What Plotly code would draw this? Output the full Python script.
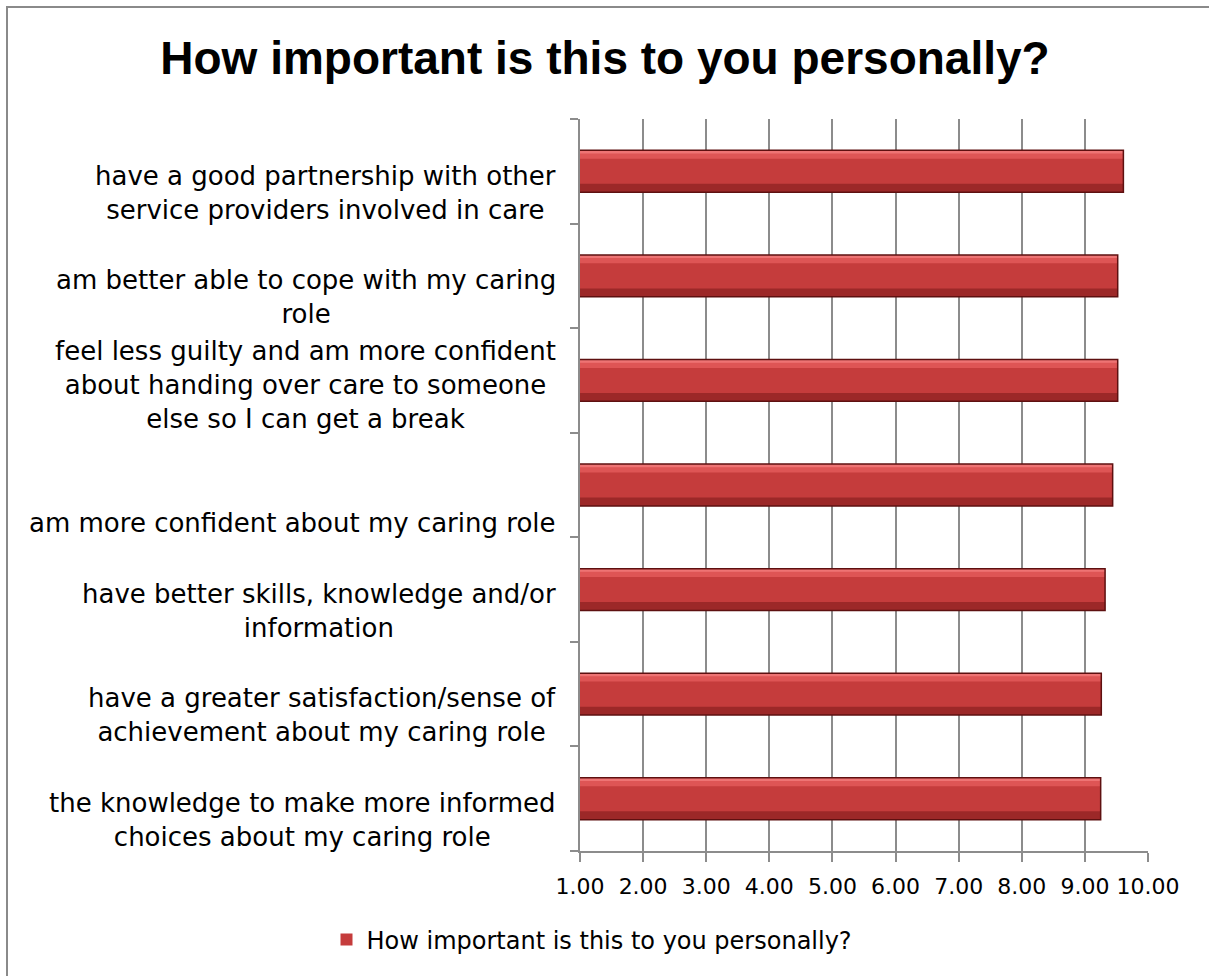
import plotly.graph_objects as go

# Survey items, listed from the bottom of the chart to the top
categories = [
    "the knowledge to make more informed choices about my caring role",
    "have a greater satisfaction/sense of achievement about my caring role",
    "have better skills, knowledge and/or information",
    "am more confident about my caring role",
    "feel less guilty and am more confident about handing over care to someone else so I can get a break",
    "am better able to cope with my caring role",
    "have a good partnership with other service providers involved in care",
]

# Wrapped text shown beside each bar
category_labels = [
    "the knowledge to make more informed<br>choices about my caring role",
    "have a greater satisfaction/sense of<br>achievement about my caring role",
    "have better skills, knowledge and/or<br>information",
    "am more confident about my caring role",
    "feel less guilty and am more confident<br>about handing over care to someone<br>else so I can get a break",
    "am better able to cope with my caring<br>role",
    "have a good partnership with other<br>service providers involved in care",
]

importance = [9.25, 9.26, 9.32, 9.44, 9.52, 9.52, 9.61]

series_name = "How important is this to you personally?"
chart_title = "How important is this to you personally?"

x_ticks = [1, 2, 3, 4, 5, 6, 7, 8, 9, 10]

LABEL_FONT = "DejaVu Sans"
GRID = "#8c8c8c"

fig = go.Figure()

# Main body of each bar (bars start at zero and are clipped by the axis at 1)
fig.add_trace(go.Bar(
    y=categories, x=importance, orientation="h",
    width=0.4, offset=-0.2,
    marker=dict(color="#C53C3C", line=dict(width=0)),
    name=series_name, showlegend=True,
))
# Lighter band along the upper edge for a rounded look
fig.add_trace(go.Bar(
    y=categories, x=importance, orientation="h",
    width=0.07, offset=0.12,
    marker=dict(color="#DE5555", line=dict(width=0)),
    showlegend=False, hoverinfo="skip",
))
fig.add_trace(go.Bar(
    y=categories, x=importance, orientation="h",
    width=0.03, offset=0.17,
    marker=dict(color="#EE7474", line=dict(width=0)),
    showlegend=False, hoverinfo="skip",
))
# Darker band along the lower edge
fig.add_trace(go.Bar(
    y=categories, x=importance, orientation="h",
    width=0.08, offset=-0.2,
    marker=dict(color="#9C2828", line=dict(width=0)),
    showlegend=False, hoverinfo="skip",
))
# Dark outline drawn on top
fig.add_trace(go.Bar(
    y=categories, x=importance, orientation="h",
    width=0.4, offset=-0.2,
    marker=dict(color="rgba(0,0,0,0)", line=dict(color="#5E1010", width=1.5)),
    showlegend=False, hoverinfo="skip",
))

# Category text, bottom-aligned within each band
for i, lab in enumerate(category_labels):
    fig.add_annotation(
        x=0, xref="paper", xanchor="right", xshift=-22,
        y=i - 0.5, yref="y", yanchor="bottom", yshift=-3,
        text=lab, showarrow=False, align="center",
        font=dict(family=LABEL_FONT, size=26, color="#000000"),
    )

# Outer chart border (left and top edges visible)
L, R, T, B = 580, 61, 119, 125
W, H = 1209, 976
pw, ph = W - L - R, H - T - B
def px_to_paper_x(px):
    return (px - L) / pw
def py_to_paper_y(py):
    return (H - B - py) / ph

fig.add_shape(
    type="rect", xref="paper", yref="paper",
    x0=px_to_paper_x(7), x1=px_to_paper_x(1216),
    y0=py_to_paper_y(990), y1=py_to_paper_y(7),
    line=dict(color="#8a8a8a", width=2), fillcolor="rgba(0,0,0,0)",
    layer="below",
)

fig.update_layout(
    width=W, height=H,
    margin=dict(l=L, r=R, t=T, b=B),
    paper_bgcolor="white", plot_bgcolor="white",
    barmode="overlay",
    title=dict(
        text=f"<b>{chart_title}</b>",
        font=dict(family="Liberation Sans", size=46, color="#000000"),
        x=605 / W, xref="container", xanchor="center",
        y=1 - 58 / H, yref="container", yanchor="middle",
    ),
    legend=dict(
        orientation="h", xref="container", yref="container",
        x=592 / W, xanchor="center", y=1 - 940 / H, yanchor="middle",
        font=dict(family=LABEL_FONT, size=24, color="#000000"),
        itemwidth=30, bgcolor="rgba(0,0,0,0)",
    ),
    showlegend=True,
)

fig.update_xaxes(
    range=[1, 10], tickvals=x_ticks, tickformat=".2f",
    showgrid=True, gridcolor=GRID, gridwidth=1.5,
    showline=True, linecolor=GRID, linewidth=1.5,
    ticks="outside", ticklen=9, tickcolor=GRID, tickwidth=1.5,
    ticklabelstandoff=6,
    tickfont=dict(family=LABEL_FONT, size=22, color="#000000"),
    zeroline=False, fixedrange=True,
)
fig.update_yaxes(
    type="category", categoryorder="array", categoryarray=categories,
    range=[-0.5, len(categories) - 0.5],
    showticklabels=False, showgrid=False,
    showline=True, linecolor=GRID, linewidth=1.5,
    ticks="outside", tickson="boundaries", ticklen=8, tickcolor=GRID, tickwidth=1.5,
    zeroline=False, fixedrange=True,
)

fig.write_html("out.html")
